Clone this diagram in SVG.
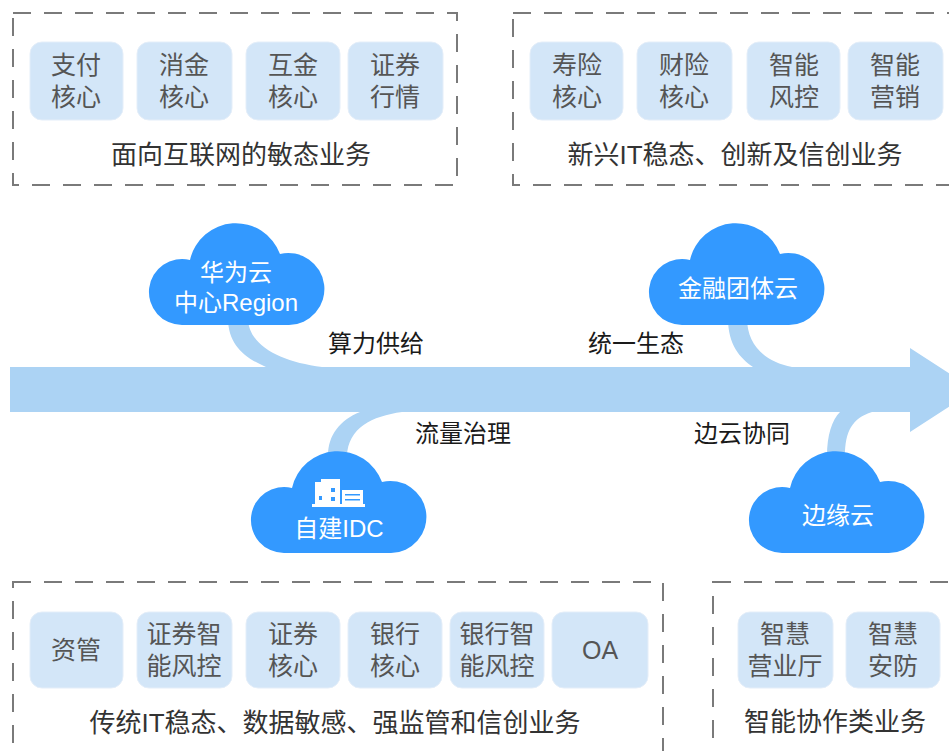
<svg xmlns="http://www.w3.org/2000/svg" width="949" height="751" viewBox="0 0 949 751">
<defs>
<style>
.box{fill:none;stroke:#7a7a7a;stroke-width:2;stroke-dasharray:18 13}
.tile{fill:#d3e6f8;stroke:#e4eef9;stroke-width:1}
.tt{font-family:"Liberation Sans","Noto Sans CJK SC",sans-serif;font-size:25px;fill:#555;text-anchor:middle;dominant-baseline:central}
.cap{font-family:"Liberation Sans","Noto Sans CJK SC",sans-serif;font-size:26px;fill:#333;text-anchor:middle;dominant-baseline:central}
.cloud{fill:#3399ff}
.ct{font-family:"Liberation Sans","Noto Sans CJK SC",sans-serif;font-size:24px;fill:#fff;text-anchor:middle;dominant-baseline:central}
.lbl{font-family:"Liberation Sans","Noto Sans CJK SC",sans-serif;font-size:24px;fill:#1a1a1a;text-anchor:middle;dominant-baseline:central}
.flow{fill:#acd3f4}
</style>
<path id="cloudShape" d="M34,103 A33,33 0 1 1 42,38 A47,47 0 0 1 132,32 A36,36 0 1 1 141,103 Z"/>
</defs>
<rect width="949" height="751" fill="#fff"/>

<g id="group-internet">
<rect class="box" x="13" y="13" width="444" height="172"/>
<rect class="tile" x="30" y="42" width="93" height="78" rx="12"/>
<text class="tt" x="76" y="65">支付</text><text class="tt" x="76" y="97">核心</text>
<rect class="tile" x="137" y="42" width="95" height="78" rx="12"/>
<text class="tt" x="184" y="65">消金</text><text class="tt" x="184" y="97">核心</text>
<rect class="tile" x="246" y="42" width="94" height="78" rx="12"/>
<text class="tt" x="293" y="65">互金</text><text class="tt" x="293" y="97">核心</text>
<rect class="tile" x="348" y="42" width="95" height="78" rx="12"/>
<text class="tt" x="395" y="65">证券</text><text class="tt" x="395" y="97">行情</text>
<text class="cap" x="241" y="155">面向互联网的敏态业务</text>
</g>

<g id="group-emerging">
<rect class="box" x="513" y="13" width="460" height="172"/>
<rect class="tile" x="530" y="42" width="93" height="78" rx="12"/>
<text class="tt" x="577" y="65">寿险</text><text class="tt" x="577" y="97">核心</text>
<rect class="tile" x="637" y="42" width="95" height="78" rx="12"/>
<text class="tt" x="684" y="65">财险</text><text class="tt" x="684" y="97">核心</text>
<rect class="tile" x="747" y="42" width="93" height="78" rx="12"/>
<text class="tt" x="794" y="65">智能</text><text class="tt" x="794" y="97">风控</text>
<rect class="tile" x="848" y="42" width="95" height="78" rx="12"/>
<text class="tt" x="895" y="65">智能</text><text class="tt" x="895" y="97">营销</text>
<text class="cap" x="735" y="155">新兴IT稳态、创新及信创业务</text>
</g>

<g id="connectors">
<path class="flow" d="M10,367 H910 V348 L975,390 L910,432 V412 H10 Z"/>
<path class="flow" d="M228,318 L248,318 C248,345 280,362 322,367 L266,367 C245,358 228,345 228,318 Z"/>
<path class="flow" d="M360,412 L402,412 C372,416 348,428 347,456 L328,456 C328,435 340,420 360,412 Z"/>
<path class="flow" d="M728,318 L747,318 C747,345 765,362 792,367 L753,367 C740,358 728,345 728,318 Z"/>
<path class="flow" d="M840,412 L872,412 C852,418 845,432 845,456 L827,456 C827,435 832,420 840,412 Z"/>
<text class="lbl" x="376" y="343">算力供给</text>
<text class="lbl" x="636" y="343">统一生态</text>
<text class="lbl" x="463" y="433">流量治理</text>
<text class="lbl" x="742" y="433">边云协同</text>
</g>

<g id="cloud-huawei">
<use href="#cloudShape" class="cloud" x="148" y="222"/>
<text class="ct" x="236" y="272">华为云</text>
<text class="ct" x="236" y="302">中心Region</text>
</g>

<g id="cloud-finance">
<use href="#cloudShape" class="cloud" x="648" y="222"/>
<text class="ct" x="738" y="288">金融团体云</text>
</g>

<g id="cloud-idc">
<use href="#cloudShape" class="cloud" x="250" y="450"/>
<g fill="#fff">
<rect x="315" y="482" width="7" height="23"/>
<rect x="321" y="479" width="19" height="26"/>
<rect x="342" y="490" width="21" height="15"/>
<rect x="312" y="504" width="53" height="3"/>
</g>
<g fill="#3399ff">
<rect x="331" y="488" width="4" height="4"/>
<rect x="331" y="497" width="4" height="4"/>
<rect x="319" y="496" width="3" height="4"/>
<rect x="345" y="494" width="15" height="1.5"/>
<rect x="345" y="499" width="15" height="1.5"/>
</g>
<text class="ct" x="339" y="528">自建IDC</text>
</g>

<g id="cloud-edge">
<use href="#cloudShape" class="cloud" x="748" y="450"/>
<text class="ct" x="838" y="515">边缘云</text>
</g>

<g id="group-traditional">
<rect class="box" x="13" y="582" width="650" height="190"/>
<rect class="tile" x="30" y="612" width="93" height="76" rx="12"/>
<text class="tt" x="76" y="650">资管</text>
<rect class="tile" x="137" y="612" width="95" height="76" rx="12"/>
<text class="tt" x="184" y="634">证券智</text><text class="tt" x="184" y="666">能风控</text>
<rect class="tile" x="246" y="612" width="94" height="76" rx="12"/>
<text class="tt" x="293" y="634">证券</text><text class="tt" x="293" y="666">核心</text>
<rect class="tile" x="348" y="612" width="94" height="76" rx="12"/>
<text class="tt" x="395" y="634">银行</text><text class="tt" x="395" y="666">核心</text>
<rect class="tile" x="450" y="612" width="94" height="76" rx="12"/>
<text class="tt" x="497" y="634">银行智</text><text class="tt" x="497" y="666">能风控</text>
<rect class="tile" x="552" y="612" width="96" height="76" rx="12"/>
<text class="tt" x="600" y="650">OA</text>
<text class="cap" x="335" y="723">传统IT稳态、数据敏感、强监管和信创业务</text>
</g>

<g id="group-collab">
<rect class="box" x="713" y="582" width="260" height="190"/>
<rect class="tile" x="738" y="612" width="95" height="76" rx="12"/>
<text class="tt" x="785" y="634">智慧</text><text class="tt" x="785" y="666">营业厅</text>
<rect class="tile" x="846" y="612" width="94" height="76" rx="12"/>
<text class="tt" x="893" y="634">智慧</text><text class="tt" x="893" y="666">安防</text>
<text class="cap" x="835" y="722">智能协作类业务</text>
</g>
</svg>
